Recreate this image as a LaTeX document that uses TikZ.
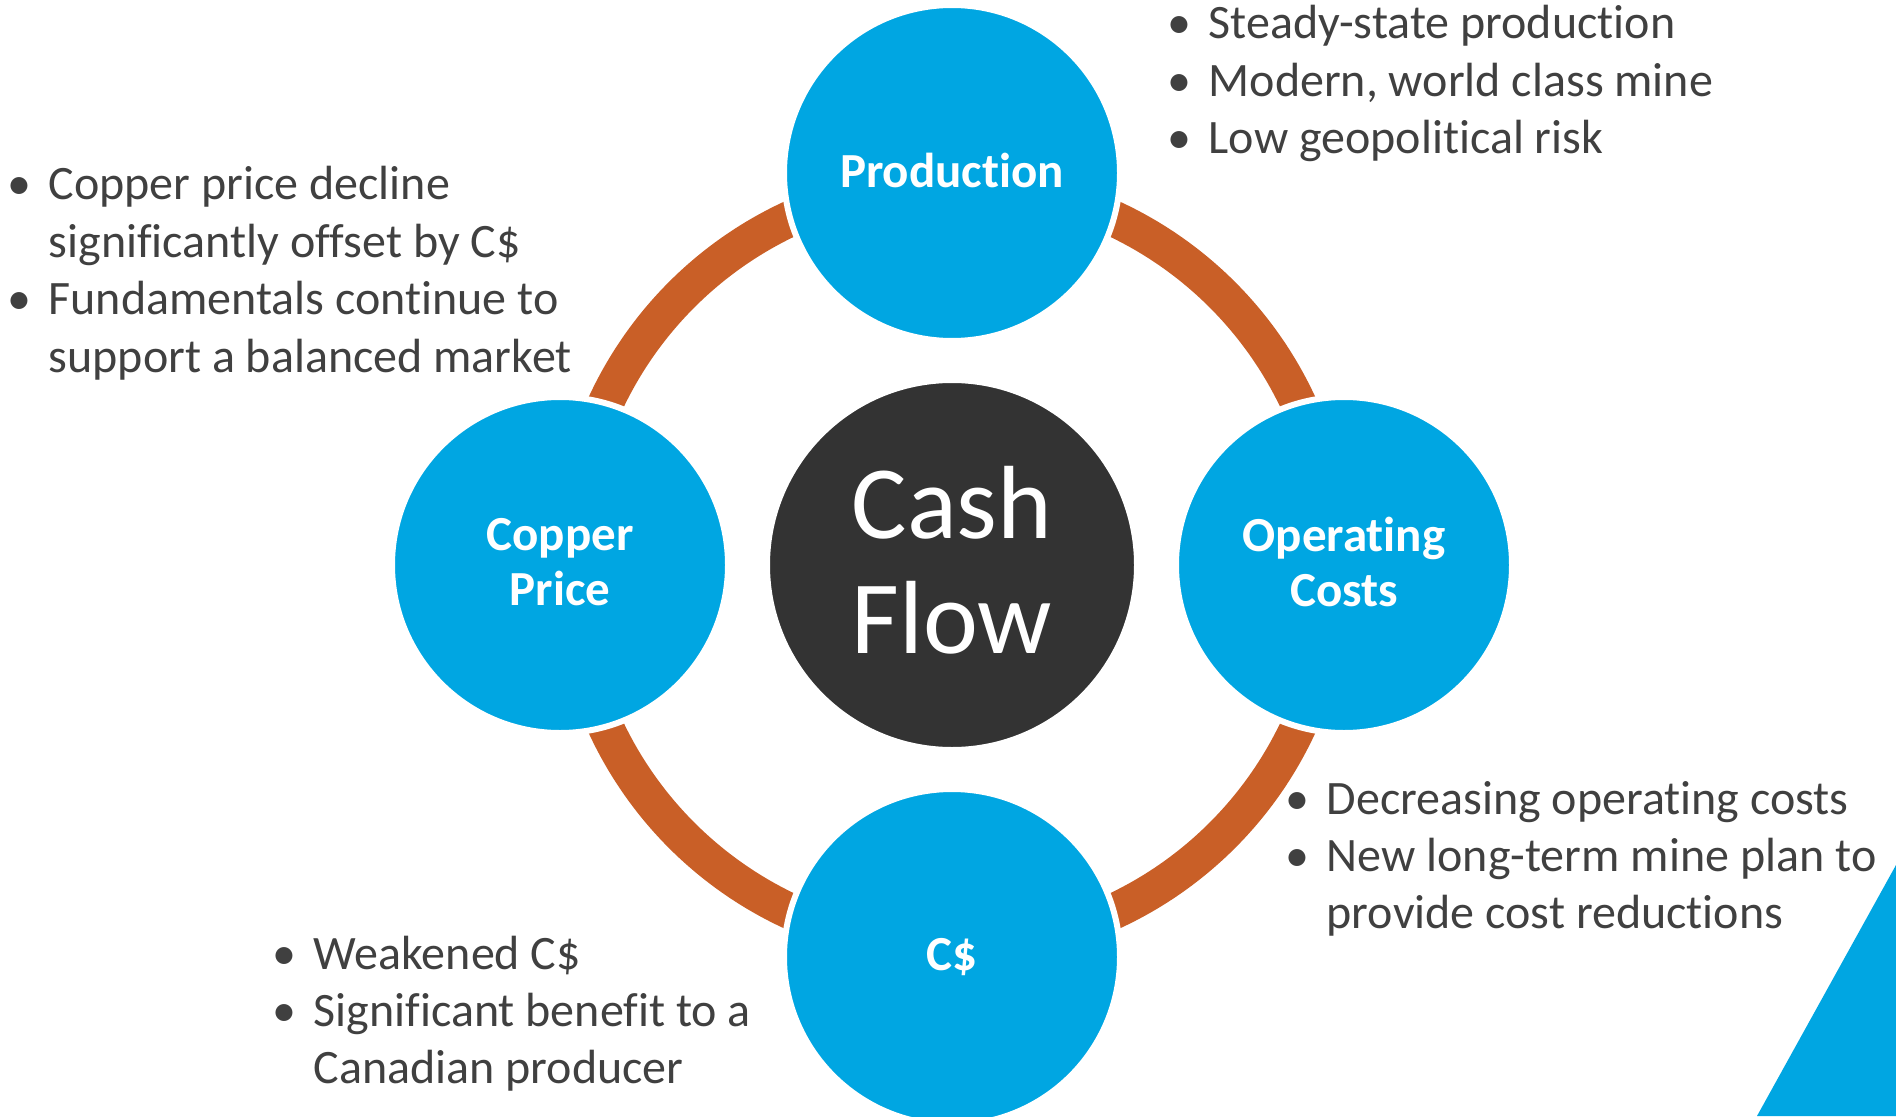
\documentclass[tikz,border=0pt]{standalone}
\usepackage{fontspec}
\setmainfont{Carlito}[Ligatures={NoCommon}]
\definecolor{cfblue}{HTML}{00A6E2}
\definecolor{cforange}{HTML}{C95F27}
\definecolor{cfdark}{HTML}{333333}
\definecolor{cfgrey}{HTML}{404040}
\newcommand{\cfbul}{\makebox[0.41cm][l]{\textbullet}}
\newcommand{\cfgap}{\hspace*{0.41cm}}
\tikzset{
  hub/.style={circle, fill=cfdark, draw=white, line width=0.06cm, minimum size=3.70cm,
    inner sep=0pt, text=white, align=center, text depth=0.1cm,
    font=\fontsize{29.6}{32.9}\selectfont},
  spoke/.style={circle, fill=cfblue, draw=white, line width=0.06cm, minimum size=3.36cm,
    inner sep=0pt, text=white, align=center, text depth=0.06cm,
    font=\bfseries\fontsize{13.94}{15.65}\selectfont},
  ring/.style={draw=cforange, line width=0.36cm},
  note/.style={anchor=base west, inner sep=0pt, text=cfgrey, font=\fontsize{13.66}{16.33}\selectfont}
}
\begin{document}
\begin{tikzpicture}
  \useasboundingbox (0,0) rectangle (18.96,11.16);
  \clip (0,0) rectangle (18.96,11.16);
  % corner wedge
  \fill[cfblue] (18.96,2.51) -- (17.57,0) -- (18.96,0) -- cycle;
  \begin{scope}[shift={(9.52,5.51)}]
    \coordinate (rt) at (90:3.82);
    \coordinate (rl) at (180:3.82);
    \coordinate (rb) at (270:3.82);
    \coordinate (rr) at (0:3.82);
    \begin{scope}[ring]
      \draw (rt) to[bend right=45] (rl);
      \draw (rl) to[bend right=45] (rb);
      \draw (rb) to[bend right=45] (rr);
      \draw (rr) to[bend right=45] (rt);
    \end{scope}
    \draw
      (0,0) node[hub] (cash) {Cash\\Flow}
      (90:3.92) node[spoke] (prod) {Production}
      (0:3.92) node[spoke] (opcost) {Operating\\Costs}
      (270:3.92) node[spoke] (cad) {C\$}
      (180:3.92) node[spoke] (copper) {Copper\\Price};
  \end{scope}
  % notes
  \node[note] (nprod) at (11.67,10.77) {\begin{tabular}[t]{@{}l@{}}
    \cfbul Steady-state production\\
    \cfbul Modern, world class mine\\
    \cfbul Low geopolitical risk\end{tabular}};
  \node[note] (ncopper) at (0.07,9.16) {\begin{tabular}[t]{@{}l@{}}
    \cfbul Copper price decline\\
    \cfgap significantly offset by C\$\\
    \cfbul Fundamentals continue to\\
    \cfgap support a balanced market\end{tabular}};
  \node[note] (nopcost) at (12.85,3.02) {\begin{tabular}[t]{@{}l@{}}
    \cfbul Decreasing operating costs\\
    \cfbul New long-term mine plan to\\
    \cfgap provide cost reductions\end{tabular}};
  \node[note] (ncad) at (2.72,1.47) {\begin{tabular}[t]{@{}l@{}}
    \cfbul Weakened C\$\\
    \cfbul Significant benefit to a\\
    \cfgap Canadian producer\end{tabular}};
\end{tikzpicture}
\end{document}
